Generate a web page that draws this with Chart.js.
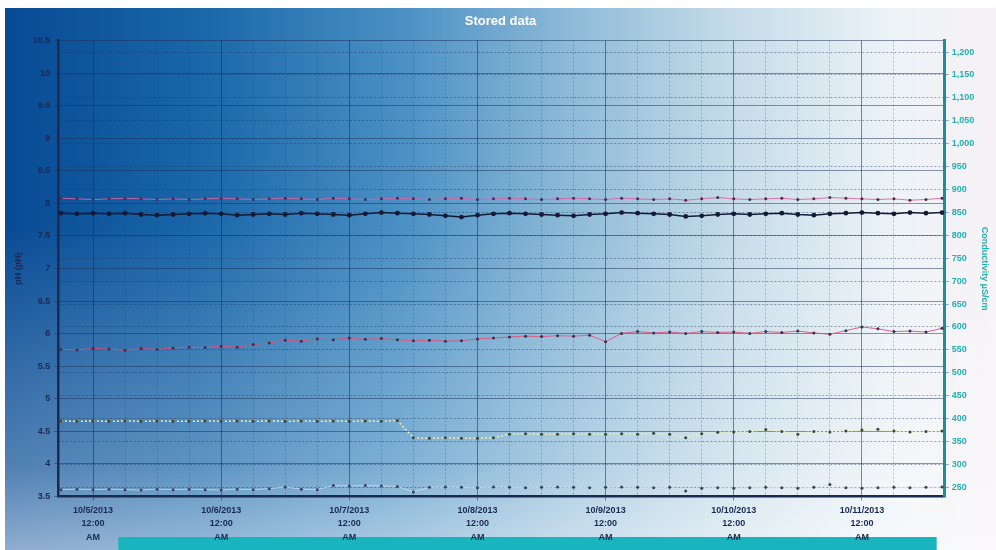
<!DOCTYPE html>
<html>
<head>
<meta charset="utf-8">
<script src="https://cdn.jsdelivr.net/npm/chart.js@4.4.1/dist/chart.umd.min.js"></script>
<style>
  html, body { margin: 0; padding: 0; overflow: hidden; background: #fff; }
  #wrap { position: relative; width: 996px; height: 550px; overflow: hidden; }
  #bg {
    position: absolute; left: 5px; top: 8px; right: 0; bottom: 0;
    background:
      linear-gradient(to bottom, rgba(255,255,255,0) 0%, rgba(255,255,255,0) 40%, rgba(255,255,255,0.3) 85%, rgba(255,255,255,0.55) 100%),
      linear-gradient(to right, #074a94 0%, #1a67a9 20%, #4a90c4 40%, #8dbad8 57%, #c7dde9 74%, #edf3f7 90%, #f7f2f6 100%);
  }
  #chart { position: absolute; left: 0; top: 0; }
</style>
</head>
<body>
<div id="wrap">
  <div id="bg"></div>
  <canvas id="chart" width="996" height="580"></canvas>
</div>
<script>
// hours after 10/5/2013 12:00 AM, one reading every 3 hours
const hours = [-6, -3, 0, 3, 6, 9, 12, 15, 18, 21, 24, 27, 30, 33, 36, 39, 42, 45, 48, 51,
  54, 57, 60, 63, 66, 69, 72, 75, 78, 81, 84, 87, 90, 93, 96, 99, 102, 105, 108, 111,
  114, 117, 120, 123, 126, 129, 132, 135, 138, 141, 144, 147, 150, 153, 156, 159];

const dayLabels = ['10/5/2013', '10/6/2013', '10/7/2013', '10/8/2013', '10/9/2013', '10/10/2013', '10/11/2013'];
const dayTicks = [0, 24, 48, 72, 96, 120, 144];
const condTicks = [250, 300, 350, 400, 450, 500, 550, 600, 650, 700, 750, 800, 850, 900, 950, 1000, 1050, 1100, 1150, 1200];

// pH (left axis)
const ph1 = [7.85, 7.84, 7.85, 7.84, 7.85, 7.83, 7.82, 7.83,
  7.84, 7.85, 7.84, 7.82, 7.83, 7.84, 7.83, 7.85,
  7.84, 7.83, 7.82, 7.84, 7.86, 7.85, 7.84, 7.83,
  7.81, 7.79, 7.82, 7.84, 7.85, 7.84, 7.83, 7.82,
  7.81, 7.83, 7.84, 7.86, 7.85, 7.84, 7.83, 7.80,
  7.81, 7.83, 7.84, 7.83, 7.84, 7.85, 7.83, 7.82,
  7.84, 7.85, 7.86, 7.85, 7.84, 7.86, 7.85, 7.86];

const ph2 = [8.08, 8.07, 8.06, 8.07, 8.08, 8.07, 8.06, 8.07,
  8.06, 8.07, 8.08, 8.07, 8.06, 8.07, 8.08, 8.07,
  8.06, 8.08, 8.07, 8.06, 8.07, 8.08, 8.07, 8.06,
  8.07, 8.08, 8.06, 8.07, 8.08, 8.07, 8.06, 8.07,
  8.08, 8.07, 8.06, 8.08, 8.07, 8.06, 8.07, 8.05,
  8.07, 8.09, 8.07, 8.06, 8.07, 8.08, 8.06, 8.07,
  8.09, 8.08, 8.07, 8.06, 8.07, 8.05, 8.06, 8.08];

// conductivity µS/cm (right axis)
const cond1 = [551, 550, 553, 552, 549, 553, 551,
  554, 556, 555, 558, 556, 562, 565,
  571, 569, 574, 572, 576, 573, 575,
  572, 570, 571, 569, 570, 574, 576,
  578, 580, 579, 581, 580, 582, 568,
  586, 590, 587, 589, 586, 590, 588,
  589, 586, 590, 588, 591, 587, 584,
  592, 600, 596, 590, 591, 589, 597];

const cond2 = [395, 394, 395, 394, 395, 394, 395, 394, 394, 395, 394,
  395, 394, 395, 394, 395, 394, 395, 394, 395, 394, 396,
  358, 357, 358, 357, 357, 358,
  366, 367, 366, 366, 367, 366, 366, 367, 366, 368, 366, 358, 367,
  370, 371, 372, 376, 372, 366, 372, 371, 373, 375, 377, 373, 371, 372, 373];

const cond3 = [245, 246, 245, 246, 245, 244, 246, 245, 246, 245, 244,
  246, 245, 247, 251, 246, 245,
  254, 253, 254, 253, 252,
  240, 250, 251, 250, 249, 251,
  250, 249, 250, 251, 250, 249, 250, 251, 250, 249, 250,
  242, 248, 249, 248, 249, 250, 249, 248, 250,
  256, 249, 248, 249, 250, 249, 250, 251];

function pts(vals) {
    return hours.map((h, i) => ({ x: h, y: vals[i] }));
}

const tickFont = { family: 'Liberation Sans', size: 9, weight: 'bold' };

const legendBox = {
    id: 'legendBox',
    beforeDraw(chart) {
        const l = chart.legend, a = chart.chartArea, ctx = chart.ctx;
        ctx.save();
        ctx.fillStyle = '#19b4be';
        ctx.fillRect(a.left + 60, l.top - 10, a.right - a.left - 68, l.height + 30);
        ctx.restore();
    }
};

new Chart(document.getElementById('chart'), {
    type: 'line',
    data: {
        datasets: [
            {
                label: 'pH 1 (pH)',
                data: pts(ph1),
                yAxisID: 'y',
                borderColor: '#141a35',
                backgroundColor: '#141a35',
                borderWidth: 1.5,
                pointRadius: 2.4,
                pointBorderWidth: 0
            },
            {
                label: 'pH 2 (pH)',
                data: pts(ph2),
                yAxisID: 'y',
                borderColor: 'rgba(222,100,160,0.9)',
                backgroundColor: '#4a2a5a',
                borderWidth: 1,
                pointRadius: 1.5,
                pointBorderWidth: 0
            },
            {
                label: 'Conductivity 1 (µS/cm)',
                data: pts(cond1),
                yAxisID: 'y1',
                borderColor: 'rgba(230,80,120,0.9)',
                backgroundColor: '#3a3050',
                borderWidth: 1,
                pointRadius: 1.5,
                pointBorderWidth: 0
            },
            {
                label: 'Conductivity 2 (µS/cm)',
                data: pts(cond2),
                yAxisID: 'y1',
                borderColor: '#eef0a8',
                backgroundColor: '#36463e',
                borderWidth: 1.5,
                borderDash: [2, 2],
                pointRadius: 1.5,
                pointBorderWidth: 0
            },
            {
                label: 'Conductivity 3 (µS/cm)',
                data: pts(cond3),
                yAxisID: 'y1',
                borderColor: 'rgba(215,225,240,0.7)',
                backgroundColor: '#3a4258',
                borderWidth: 1,
                pointRadius: 1.5,
                pointBorderWidth: 0
            }
        ]
    },
    options: {
        responsive: false,
        animation: false,
        layout: { padding: { top: 4, left: 9, right: 4, bottom: 0 } },
        plugins: {
            title: {
                display: true,
                text: 'Stored data',
                color: '#ffffff',
                font: { family: 'Liberation Sans', size: 13, weight: 'bold' },
                padding: { top: 10, bottom: 11 }
            },
            legend: {
                position: 'bottom',
                labels: {
                    color: '#0d6870',
                    font: { family: 'Liberation Sans', size: 9 },
                    boxWidth: 22,
                    boxHeight: 2,
                    padding: 14
                }
            },
            tooltip: { enabled: false }
        },
        scales: {
            x: {
                type: 'linear',
                min: -6.5,
                max: 159.5,
                afterBuildTicks: function (scale) {
                    scale.ticks = dayTicks.map(v => ({ value: v }));
                },
                ticks: {
                    autoSkip: false,
                    maxRotation: 0,
                    color: '#1b2a55',
                    font: { family: 'Liberation Sans', size: 9, weight: 'bold', lineHeight: 1.5 },
                    padding: 3,
                    callback: function (value) {
                        return [dayLabels[dayTicks.indexOf(value)], '12:00', 'AM'];
                    }
                },
                grid: { color: 'rgba(25,45,85,0.55)', tickLength: 4 },
                border: { color: '#1a2a50', width: 2.5 }
            },
            x2: {
                type: 'linear',
                position: 'bottom',
                min: -6.5,
                max: 159.5,
                afterBuildTicks: function (scale) {
                    scale.ticks = scale.ticks.filter(t => t.value % 6 === 0 && t.value % 24 !== 0);
                },
                ticks: { display: false, stepSize: 6 },
                grid: { color: 'rgba(40,60,110,0.3)', drawTicks: false },
                border: { display: false, dash: [2, 2] }
            },
            y: {
                position: 'left',
                min: 3.5,
                max: 10.5,
                ticks: {
                    stepSize: 0.5,
                    color: '#1b2a55',
                    font: tickFont,
                    padding: 4,
                    callback: function (value) {
                        return String(value);
                    }
                },
                title: {
                    display: true,
                    text: 'pH (pH)',
                    color: '#1b2a55',
                    font: { family: 'Liberation Sans', size: 9, weight: 'bold' },
                    padding: { top: 4, bottom: 5 }
                },
                grid: { color: 'rgba(25,45,85,0.5)', tickLength: 4 },
                border: { color: '#1a2a50', width: 2.5 }
            },
            y1: {
                position: 'right',
                min: 230,
                max: 1225,
                afterBuildTicks: function (scale) {
                    scale.ticks = condTicks.map(v => ({ value: v }));
                },
                ticks: {
                    color: '#22b0b0',
                    font: tickFont,
                    padding: 3,
                    callback: function (value) {
                        return value.toLocaleString('en-US');
                    }
                },
                title: {
                    display: true,
                    text: 'Conductivity µS/cm',
                    color: '#22b0b0',
                    font: { family: 'Liberation Sans', size: 9, weight: 'bold' },
                    padding: { top: 2, bottom: 2 }
                },
                grid: { color: 'rgba(30,50,95,0.45)', tickLength: 4 },
                border: { color: '#1e8f99', width: 3, dash: [2, 2] }
            }
        }
    },
    plugins: [legendBox]
});
</script>
</body>
</html>
